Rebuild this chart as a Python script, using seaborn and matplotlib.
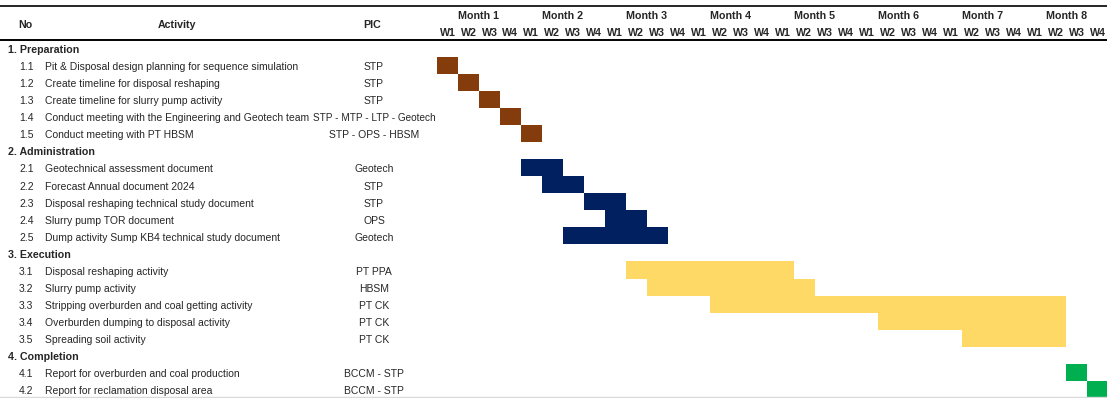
import matplotlib
matplotlib.use("Agg")
import matplotlib.pyplot as plt
import seaborn as sns
import pandas as pd

# ---------------- data ----------------
sections = ["1. Preparation", "2. Administration", "3. Execution", "4. Completion"]
task_section = [0, 0, 0, 0, 0, 1, 1, 1, 1, 1, 2, 2, 2, 2, 2, 3, 3]
task_no = ["1.1", "1.2", "1.3", "1.4", "1.5",
           "2.1", "2.2", "2.3", "2.4", "2.5",
           "3.1", "3.2", "3.3", "3.4", "3.5",
           "4.1", "4.2"]
activities = [
    "Pit & Disposal design planning for sequence simulation",
    "Create timeline for disposal reshaping",
    "Create timeline for slurry pump activity",
    "Conduct meeting with the Engineering and Geotech team",
    "Conduct meeting with PT HBSM",
    "Geotechnical assessment document",
    "Forecast Annual document 2024",
    "Disposal reshaping technical study document",
    "Slurry pump TOR document",
    "Dump activity Sump KB4 technical study document",
    "Disposal reshaping activity",
    "Slurry pump activity",
    "Stripping overburden and coal getting activity",
    "Overburden dumping to disposal activity",
    "Spreading soil activity",
    "Report for overburden and coal production",
    "Report for reclamation disposal area",
]
pics = ["STP", "STP", "STP", "STP - MTP - LTP - Geotech", "STP - OPS - HBSM",
        "Geotech", "STP", "STP", "OPS", "Geotech",
        "PT PPA", "HBSM", "PT CK", "PT CK", "PT CK",
        "BCCM - STP", "BCCM - STP"]
start_week = [0, 1, 2, 3, 4, 4, 5, 7, 8, 6, 9, 10, 13, 21, 25, 30, 31]
duration_weeks = [1, 1, 1, 1, 1, 2, 2, 2, 2, 5, 8, 8, 17, 9, 5, 1, 1]
months = ["Month 1", "Month 2", "Month 3", "Month 4",
          "Month 5", "Month 6", "Month 7", "Month 8"]
weeks = ["W1", "W2", "W3", "W4"]
phase_colors = ["#843C0C", "#002060", "#FFD966", "#00B050"]

# ---------------- build row table ----------------
rows = []
r = 0
for s, name in enumerate(sections):
    rows.append(dict(row=r, kind="section", label=name))
    r += 1
    for i, sec in enumerate(task_section):
        if sec == s:
            rows.append(dict(row=r, kind="task", no=task_no[i], activity=activities[i],
                             pic=pics[i], start=start_week[i], dur=duration_weeks[i],
                             color=phase_colors[s]))
            r += 1
df = pd.DataFrame(rows)

# ---------------- figure ----------------
sns.set_theme(style="white")
plt.rcParams["font.family"] = ["Liberation Sans Narrow", "Liberation Sans", "DejaVu Sans"]

W, H = 1107, 398
fig = plt.figure(figsize=(W / 100, H / 100), dpi=100)
ax = fig.add_axes([0, 0, 1, 1])

# pixel layout mapping
X0, WK = 437.0, 20.98      # left of gantt grid, week width (px)
Y0, RH = 39.8, 17.05       # top of first row, row height (px)


def px_x(p):
    return (p - X0) / WK


def px_y(p):
    return (p - Y0) / RH


ax.set_xlim(px_x(0), px_x(W))
ax.set_ylim(px_y(H), px_y(0))
ax.axis("off")

# calibrate font size to reference text width
probe = ax.text(0, 0, activities[0], fontsize=10)
fig.canvas.draw()
w10 = probe.get_window_extent().width
probe.remove()
fs = 10 * 253.0 / w10
fsb = fs * 1.02

# bars
tasks = df[df.kind == "task"]
ax.barh(tasks["row"] + 0.5, tasks["dur"], left=tasks["start"], height=1.0,
        color=tasks["color"], edgecolor="none", zorder=2)

# header lines
ax.plot([px_x(0), px_x(W)], [px_y(6), px_y(6)], color="black", lw=1.2, clip_on=False)
ax.plot([px_x(0), px_x(W)], [0, 0], color="black", lw=1.4, clip_on=False)
ax.plot([px_x(0), px_x(W)], [px_y(396.5), px_y(396.5)], color="#d9d9d9", lw=1.0, clip_on=False)

# header text
hy = px_y(25)
ax.text(px_x(25), hy, "No", ha="center", va="center", fontsize=fsb, fontweight="bold")
ax.text(px_x(177), hy, "Activity", ha="center", va="center", fontsize=fsb, fontweight="bold")
ax.text(px_x(372), hy, "PIC", ha="center", va="center", fontsize=fsb, fontweight="bold")
for m, mname in enumerate(months):
    ax.text(m * 4 + 2, px_y(16.2), mname, ha="center", va="center",
            fontsize=fsb, fontweight="bold")
    for k, wname in enumerate(weeks):
        ax.text(m * 4 + k + 0.5, px_y(33), wname, ha="center", va="center",
                fontsize=fsb, fontweight="bold")

# table rows (text sits slightly below row centre, as in the reference)
dy = 1.8 / RH
for _, rw in df.iterrows():
    yc = rw["row"] + 0.5 + dy
    if rw["kind"] == "section":
        ax.text(px_x(8), yc, rw["label"], ha="left", va="center",
                fontsize=fsb, fontweight="bold")
    else:
        ax.text(px_x(19), yc, rw["no"], ha="left", va="center", fontsize=fs)
        ax.text(px_x(45), yc, rw["activity"], ha="left", va="center", fontsize=fs)
        pic_fs = fs * 0.96 if len(rw["pic"]) > 20 else fs
        ax.text(px_x(374), yc, rw["pic"], ha="center", va="center", fontsize=pic_fs)

fig.savefig("out.png", dpi=100)
